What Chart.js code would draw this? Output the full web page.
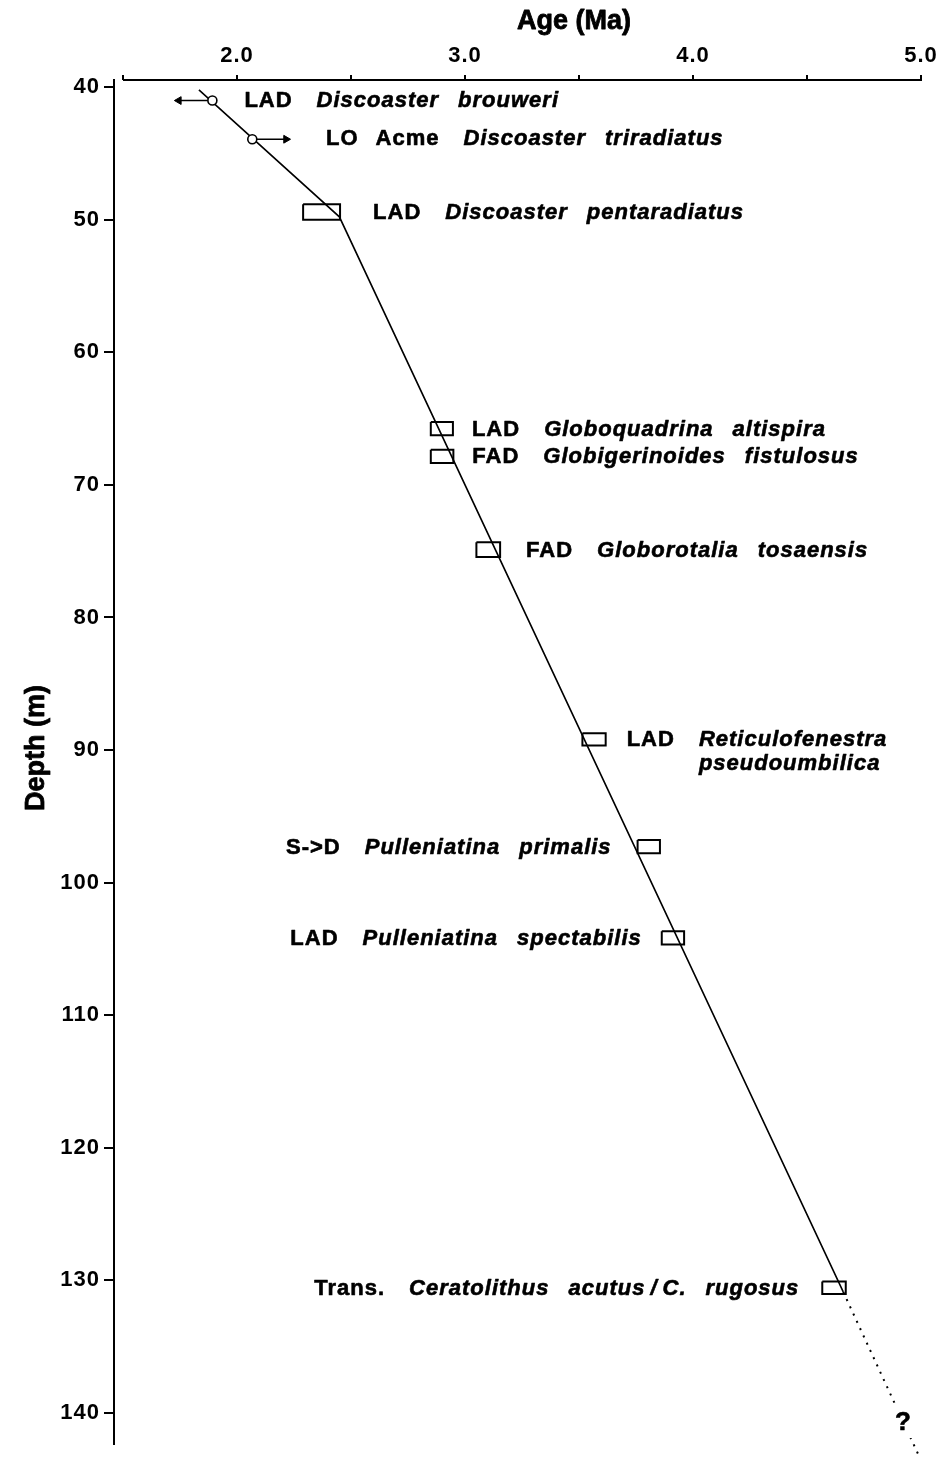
<!DOCTYPE html>
<html>
<head>
<meta charset="utf-8">
<script src="https://cdn.jsdelivr.net/npm/chart.js@4.4.1/dist/chart.umd.min.js"></script>
<style>
    html, body { margin: 0; padding: 0; background: #fff; }
    #wrap { width: 945px; height: 1461px; position: relative; }
</style>
</head>
<body>
<div id="wrap"><canvas id="chart"></canvas></div>
<script>
// age-depth line (Ma, m)
const lineAge = [1.833, 2.449, 4.659];
const lineDepth = [40.2, 49.77, 130.88];
const extAge = [4.659, 4.996];
const extDepth = [130.88, 143.44];

// datums shown as circles with arrows
const circlePrefix = ["LAD", "LO Acme"];
const circleTaxon = ["Discoaster brouweri", "Discoaster triradiatus"];
const circleAge = [1.892, 2.067];
const circleDepth = [41.0, 43.92];
const arrowTipAge = [1.745, 2.215];

// datums shown as boxes (age range, depth range)
const boxPrefix = ["LAD", "LAD", "FAD", "FAD", "LAD", "S->D", "LAD", "Trans."];
const boxTaxon = [
    "Discoaster pentaradiatus",
    "Globoquadrina altispira",
    "Globigerinoides fistulosus",
    "Globorotalia tosaensis",
    "Reticulofenestra\npseudoumbilica",
    "Pulleniatina primalis",
    "Pulleniatina spectabilis",
    "Ceratolithus acutus / C. rugosus",
];
const boxAgeMin = [2.29, 2.85, 2.85, 3.05, 3.515, 3.757, 3.863, 4.567];
const boxAgeMax = [2.452, 2.947, 2.949, 3.154, 3.617, 3.855, 3.961, 4.67];
const boxDepthTop = [48.82, 65.25, 67.34, 74.33, 88.74, 96.79, 103.67, 130.1];
const boxDepthBase = [50.0, 66.26, 68.34, 75.43, 89.65, 97.79, 104.67, 131.03];

// axes
const ageTicks = [1.5, 2.0, 2.5, 3.0, 3.5, 4.0, 4.5, 5.0];
const depthTicks = [40, 50, 60, 70, 80, 90, 100, 110, 120, 130, 140];

const FONT = '"Liberation Sans", Arial, Helvetica, sans-serif';
const pts = (xs, ys) => xs.map((v, i) => ({ x: v, y: ys[i] }));

const datasets = [];

datasets.push({
    data: pts(lineAge, lineDepth),
    showLine: true,
    borderColor: "#000",
    borderWidth: 1.6,
    pointRadius: 0,
    order: 4,
});
datasets.push({
    data: pts(extAge, extDepth),
    showLine: true,
    borderColor: "#000",
    borderWidth: 2,
    borderDash: [2, 6],
    pointRadius: 0,
    clip: false,
    order: 4,
});

boxAgeMin.forEach((a0, i) => {
    const a1 = boxAgeMax[i];
    const d0 = boxDepthTop[i];
    const d1 = boxDepthBase[i];
    datasets.push({
        data: pts([a0, a1, a1, a0, a0], [d0, d0, d1, d1, d0]),
        showLine: true,
        borderColor: "#000",
        borderWidth: 2,
        pointRadius: 0,
        order: 3,
    });
});

circleAge.forEach((a, i) => {
    const left = arrowTipAge[i] < a;
    datasets.push({
        data: pts([a, arrowTipAge[i]], [circleDepth[i], circleDepth[i]]),
        showLine: true,
        borderColor: "#000",
        borderWidth: 1.6,
        pointRadius: [0, 4.5],
        pointStyle: "triangle",
        rotation: left ? -90 : 90,
        pointBackgroundColor: "#000",
        pointBorderColor: "#000",
        pointBorderWidth: 1,
        order: 2,
    });
});

datasets.push({
    data: pts(circleAge, circleDepth),
    pointRadius: 4.5,
    pointBackgroundColor: "#fff",
    pointBorderColor: "#000",
    pointBorderWidth: 1.6,
    order: 1,
});

// bold text with a thin outline, closer to the heavy print face
function heavyText(ctx, t, x, y) {
    ctx.fillText(t, x, y);
    ctx.strokeText(t, x, y);
}

function drawLabel(ctx, item) {
    const lines = item.taxon.split("\n");
    const words = item.prefix.split(" ").map((t) => ({ t, it: false }))
        .concat(lines[0].split(" ").map((t) => ({ t, it: true })));
    const fontOf = (w) => `${w.it ? "italic " : ""}bold 22px ${FONT}`;
    let total = 0;
    words.forEach((w, i) => {
        ctx.font = fontOf(w);
        w.w = ctx.measureText(w.t).width;
        if (i > 0) {
            const prev = words[i - 1];
            if (w.t === "/" || prev.t === "/") w.gap = 5;
            else if (w.it && !prev.it) w.gap = 24;
            else w.gap = w.it ? 19 : 17;
            total += w.gap;
        }
        total += w.w;
    });
    let x = item.side === "right" ? item.ax + item.gap : item.ax - item.gap - total;
    let taxonX = null;
    words.forEach((w, i) => {
        if (i > 0) x += w.gap;
        if (w.it && taxonX === null) taxonX = x;
        ctx.font = fontOf(w);
        heavyText(ctx, w.t, x, item.ay);
        x += w.w;
    });
    lines.slice(1).forEach((ln, k) => {
        ctx.font = fontOf({ it: true });
        heavyText(ctx, ln, taxonX, item.ay + 24 * (k + 1));
    });
}

const datumLabels = {
    id: "datumLabels",
    beforeDraw(chart) {
        chart.ctx.letterSpacing = "1px";
    },
    afterDatasetsDraw(chart) {
        const { ctx, chartArea } = chart;
        const xs = chart.scales.x;
        const ys = chart.scales.y;
        ctx.save();
        ctx.letterSpacing = "1px";
        ctx.fillStyle = "#000";
        ctx.strokeStyle = "#000";
        ctx.lineWidth = 0.6;
        ctx.lineJoin = "round";
        ctx.textBaseline = "middle";
        ctx.textAlign = "left";

        // circle datums: first label sits after the circle, second after its arrow
        const circleAnchors = [circleAge[0], arrowTipAge[1]];
        const circleGaps = [32, 40];
        circleAge.forEach((a, i) => {
            drawLabel(ctx, {
                prefix: circlePrefix[i],
                taxon: circleTaxon[i],
                side: "right",
                gap: circleGaps[i],
                ax: xs.getPixelForValue(circleAnchors[i]),
                ay: ys.getPixelForValue(circleDepth[i]),
            });
        });

        const sides = ["right", "right", "right", "right", "right", "left", "left", "left"];
        const gaps = [33, 19, 19, 26, 21, 26, 20, 23];
        boxAgeMin.forEach((a, i) => {
            const side = sides[i];
            drawLabel(ctx, {
                prefix: boxPrefix[i],
                taxon: boxTaxon[i],
                side,
                gap: gaps[i],
                ax: xs.getPixelForValue(side === "right" ? boxAgeMax[i] : boxAgeMin[i]),
                ay: ys.getPixelForValue((boxDepthTop[i] + boxDepthBase[i]) / 2) + 1,
            });
        });

        // question mark sitting on the dotted extension
        const qd = 140.7;
        const qa = extAge[0] + (qd - extDepth[0]) * (extAge[1] - extAge[0]) / (extDepth[1] - extDepth[0]);
        const qx = xs.getPixelForValue(qa);
        const qy = ys.getPixelForValue(qd);
        ctx.fillStyle = "#fff";
        ctx.fillRect(qx - 9, qy - 16, 18, 32);
        ctx.fillStyle = "#000";
        ctx.textAlign = "center";
        ctx.font = `bold 26px ${FONT}`;
        heavyText(ctx, "?", qx, qy + 1);

        // top axis line, only over the labelled age range
        ctx.lineWidth = 2;
        ctx.beginPath();
        ctx.moveTo(xs.getPixelForValue(ageTicks[0]), chartArea.top);
        ctx.lineTo(xs.getPixelForValue(ageTicks[ageTicks.length - 1]) + 1, chartArea.top);
        ctx.stroke();

        // axis titles
        ctx.lineWidth = 0.8;
        ctx.letterSpacing = "0px";
        ctx.font = `bold 27px ${FONT}`;
        ctx.textAlign = "center";
        heavyText(ctx, "Age (Ma)", 574, 22);
        ctx.translate(37, 748);
        ctx.rotate(-Math.PI / 2);
        heavyText(ctx, "Depth (m)", 0, 0);
        ctx.restore();
    },
};

new Chart(document.getElementById("chart"), {
    type: "scatter",
    data: { datasets },
    options: {
        responsive: true,
        maintainAspectRatio: false,
        animation: false,
        layout: { padding: { top: 0, left: 0, right: 24, bottom: 16 } },
        plugins: {
            legend: { display: false },
            tooltip: { enabled: false },
        },
        scales: {
            x: {
                type: "linear",
                position: "top",
                min: 1.5 - 9 / 228,
                max: 5.0,
                afterFit: (s) => { s.height = 80; },
                afterBuildTicks: (s) => { s.ticks = ageTicks.map((v) => ({ value: v })); },
                ticks: {
                    autoSkip: false,
                    maxRotation: 0,
                    padding: 6,
                    color: "#000",
                    font: { family: FONT, size: 22, weight: "bold" },
                    callback: (v) => (Number.isInteger(v) ? v.toFixed(1) : ""),
                },
                grid: { drawOnChartArea: false, tickLength: 5, color: "#000", lineWidth: 2 },
                border: { display: false },
            },
            y: {
                type: "linear",
                reverse: true,
                min: 39.45,
                max: 142.34,
                afterFit: (s) => { s.width = 114; },
                afterBuildTicks: (s) => { s.ticks = depthTicks.map((v) => ({ value: v })); },
                ticks: {
                    autoSkip: false,
                    padding: 4,
                    color: "#000",
                    font: { family: FONT, size: 22, weight: "bold" },
                },
                grid: { drawOnChartArea: false, tickLength: 10, color: "#000", lineWidth: 2 },
                border: { display: true, color: "#000", width: 2 },
            },
        },
    },
    plugins: [datumLabels],
});
</script>
</body>
</html>
